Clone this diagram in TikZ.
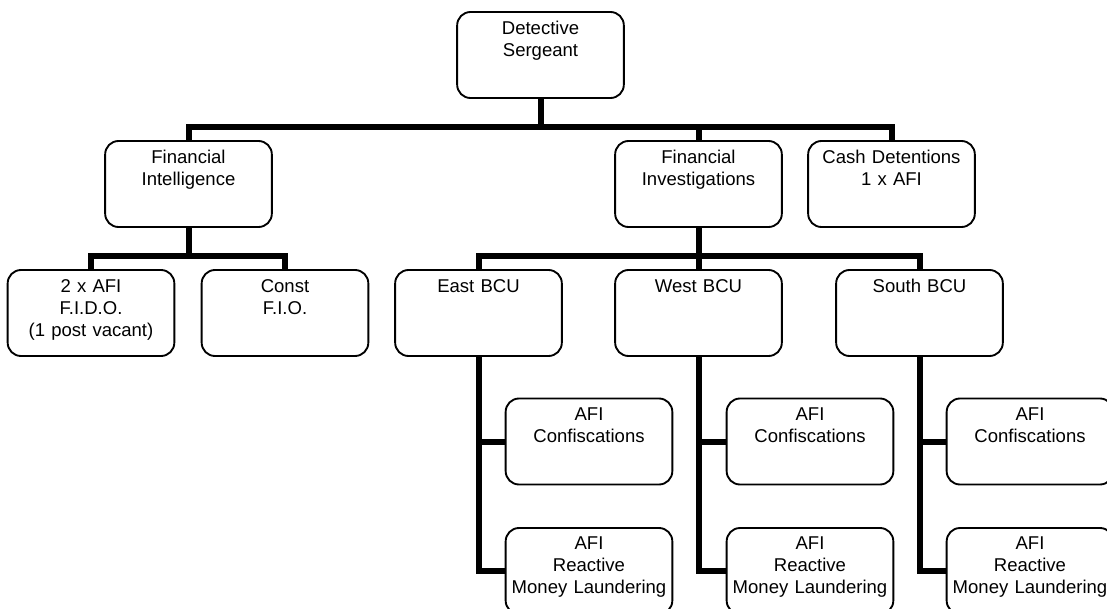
\documentclass[tikz,border=0pt]{standalone}
\usepackage{fontspec}
\setmainfont{Liberation Sans}
\begin{document}
\begin{tikzpicture}[x=0.75pt,y=-0.75pt,
  box/.style={draw,line width=1.4pt,rounded corners=10pt,minimum width=125pt,minimum height=64.5pt,inner sep=0pt},
  txt/.style={anchor=base,inner sep=0pt,align=center,text width=150pt,font=\fontsize{13.9}{16.5}\selectfont},
  conn/.style={line width=4.5pt,line join=miter}]
\useasboundingbox (0,0) rectangle (1107,608);
\clip (0,0) rectangle (1107,608);
% boxes
\node[box] (DS) at (540.5,55) {};
\node[box] (FI) at (188.5,184) {};
\node[box] (FInv) at (698.5,184) {};
\node[box] (Cash) at (891.5,184) {};
\node[box] (AFI2) at (91,313) {};
\node[box] (Const) at (285,313) {};
\node[box] (East) at (478.5,313) {};
\node[box] (West) at (698.5,313) {};
\node[box] (South) at (919.5,313) {};
\node[box] (EC) at (589,441.5) {};
\node[box] (ER) at (589,571) {};
\node[box] (WC) at (810,441.5) {};
\node[box] (WR) at (810,571) {};
\node[box] (SC) at (1030,441.5) {};
\node[box] (SR) at (1030,571) {};
% texts
\node[txt] (DSt) at ([yshift=-17.25pt]DS.north) {Detective\\Sergeant};
\node[txt] (FIt) at ([yshift=-17.25pt]FI.north) {Financial\\Intelligence};
\node[txt] (FInvt) at ([yshift=-17.25pt]FInv.north) {Financial\\Investigations};
\node[txt] (Casht) at ([yshift=-17.25pt]Cash.north) {Cash Detentions\\1 x AFI};
\node[txt] (AFI2t) at ([yshift=-17.25pt]AFI2.north) {2 x AFI\\F.I.D.O.\\(1 post vacant)};
\node[txt] (Constt) at ([yshift=-17.25pt]Const.north) {Const\\F.I.O.};
\node[txt] (Eastt) at ([yshift=-17.25pt]East.north) {East BCU};
\node[txt] (Westt) at ([yshift=-17.25pt]West.north) {West BCU};
\node[txt] (Southt) at ([yshift=-17.25pt]South.north) {South BCU};
\node[txt] (ECt) at ([yshift=-17.25pt]EC.north) {AFI\\Confiscations};
\node[txt] (ERt) at ([yshift=-16.5pt]ER.north) {AFI\\Reactive\\Money Laundering};
\node[txt] (WCt) at ([yshift=-17.25pt]WC.north) {AFI\\Confiscations};
\node[txt] (WRt) at ([yshift=-16.5pt]WR.north) {AFI\\Reactive\\Money Laundering};
\node[txt] (SCt) at ([yshift=-17.25pt]SC.north) {AFI\\Confiscations};
\node[txt] (SRt) at ([yshift=-16.5pt]SR.north) {AFI\\Reactive\\Money Laundering};
% connectors
\draw[conn] (DS.south) -- ++(0,28) -| (FI.north);
\draw[conn] (DS.south) -- ++(0,28) -| (FInv.north);
\draw[conn] (DS.south) -- ++(0,28) -| (Cash.north);
\draw[conn] (FI.south) -- ++(0,28) -| (AFI2.north);
\draw[conn] (FI.south) -- ++(0,28) -| (Const.north);
\draw[conn] (FInv.south) -- ++(0,28) -| (East.north);
\draw[conn] (FInv.south) -- ++(0,28) -| (West.north);
\draw[conn] (FInv.south) -- ++(0,28) -| (South.north);
\draw[conn] (East.south) |- (EC.west);
\draw[conn] (East.south) |- (ER.west);
\draw[conn] (West.south) |- (WC.west);
\draw[conn] (West.south) |- (WR.west);
\draw[conn] (South.south) |- (SC.west);
\draw[conn] (South.south) |- (SR.west);
\end{tikzpicture}
\end{document}
